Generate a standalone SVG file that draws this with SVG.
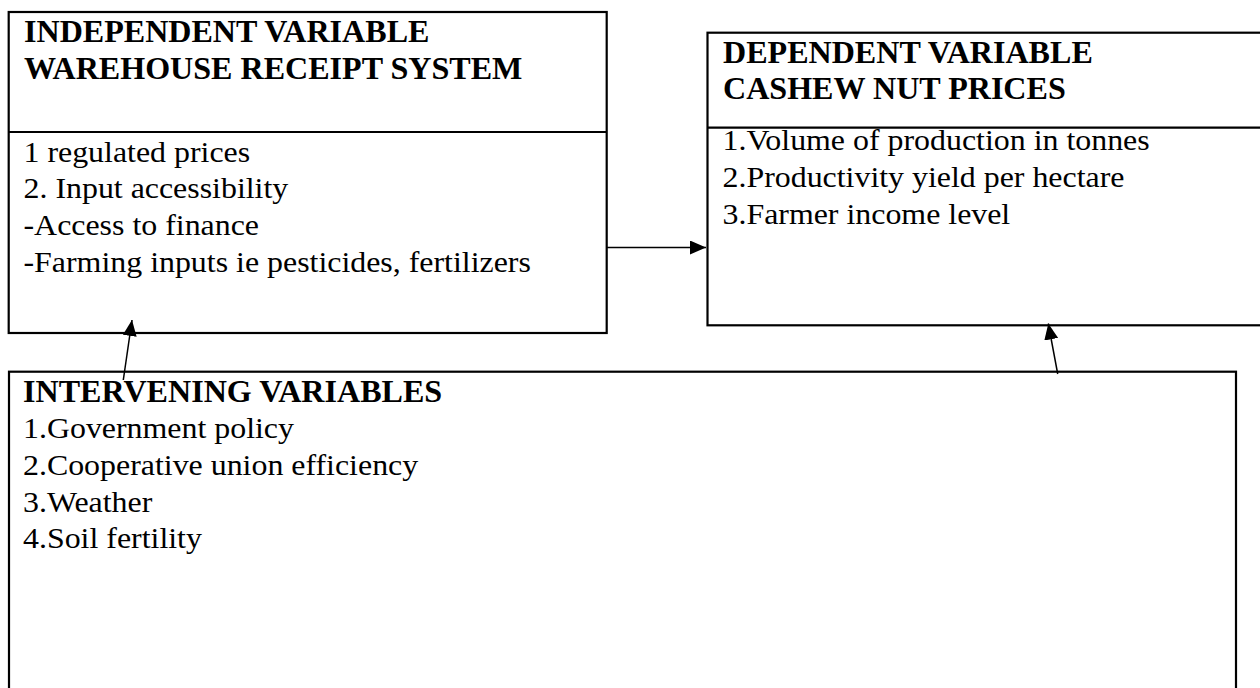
<svg xmlns="http://www.w3.org/2000/svg" width="1260" height="688" viewBox="0 0 1260 688">
<style>
.box{fill:none;stroke:#000;stroke-width:2.2}
.h{font-family:"Liberation Serif","Times New Roman",serif;font-weight:bold;font-size:31px;fill:#000}
.t{font-family:"Liberation Serif","Times New Roman",serif;font-size:29px;fill:#000}
.c{fill:none;stroke:#000;stroke-width:1.5}
</style>
<defs>
<marker id="ah" viewBox="0 0 16 14" refX="16" refY="7" markerWidth="16" markerHeight="14" markerUnits="userSpaceOnUse" orient="auto">
<path d="M0,0 L16,7 L0,14 Z" fill="#000"/>
</marker>
</defs>
<rect width="1260" height="688" fill="#fff"/>
<g id="independent">
<rect class="box" x="8.7" y="12" width="598" height="321"/>
<line class="box" x1="8.7" y1="132" x2="606.7" y2="132"/>
<text class="h" transform="matrix(1.035 0 0 1 24 42)">INDEPENDENT VARIABLE</text>
<text class="h" transform="matrix(1.035 0 0 1 24 78.5)">WAREHOUSE RECEIPT SYSTEM</text>
<text class="t" transform="matrix(1.1 0 0 1 23.5 161.5)">1 regulated prices</text>
<text class="t" transform="matrix(1.1 0 0 1 23.5 198.2)">2. Input accessibility</text>
<text class="t" transform="matrix(1.1 0 0 1 23.5 235)">-Access to finance</text>
<text class="t" transform="matrix(1.1 0 0 1 23.5 271.7)">-Farming inputs ie pesticides, fertilizers</text>
</g>
<g id="dependent">
<rect class="box" x="707.5" y="32.7" width="570" height="292.6"/>
<line class="box" x1="707.5" y1="127.7" x2="1262" y2="127.7"/>
<text class="h" transform="matrix(1.035 0 0 1 723 62.5)">DEPENDENT VARIABLE</text>
<text class="h" transform="matrix(1.035 0 0 1 723 99)">CASHEW NUT PRICES</text>
<text class="t" transform="matrix(1.1 0 0 1 722.5 150.3)">1.Volume of production in tonnes</text>
<text class="t" transform="matrix(1.1 0 0 1 722.5 187)">2.Productivity yield per hectare</text>
<text class="t" transform="matrix(1.1 0 0 1 722.5 223.7)">3.Farmer income level</text>
</g>
<g id="intervening">
<rect class="box" x="9" y="371.7" width="1227" height="340"/>
<text class="h" transform="matrix(1.035 0 0 1 23 401.7)">INTERVENING VARIABLES</text>
<text class="t" transform="matrix(1.1 0 0 1 23 438.3)">1.Government policy</text>
<text class="t" transform="matrix(1.1 0 0 1 23 475)">2.Cooperative union efficiency</text>
<text class="t" transform="matrix(1.1 0 0 1 23 511.7)">3.Weather</text>
<text class="t" transform="matrix(1.1 0 0 1 23 548.3)">4.Soil fertility</text>
</g>
<g id="connectors">
<line class="c" x1="607" y1="247.5" x2="706" y2="247.5" marker-end="url(#ah)"/>
<line class="c" x1="123.3" y1="380" x2="132" y2="320" marker-end="url(#ah)"/>
<line class="c" x1="1057.7" y1="374" x2="1048.3" y2="323.5" marker-end="url(#ah)"/>
</g>
</svg>
